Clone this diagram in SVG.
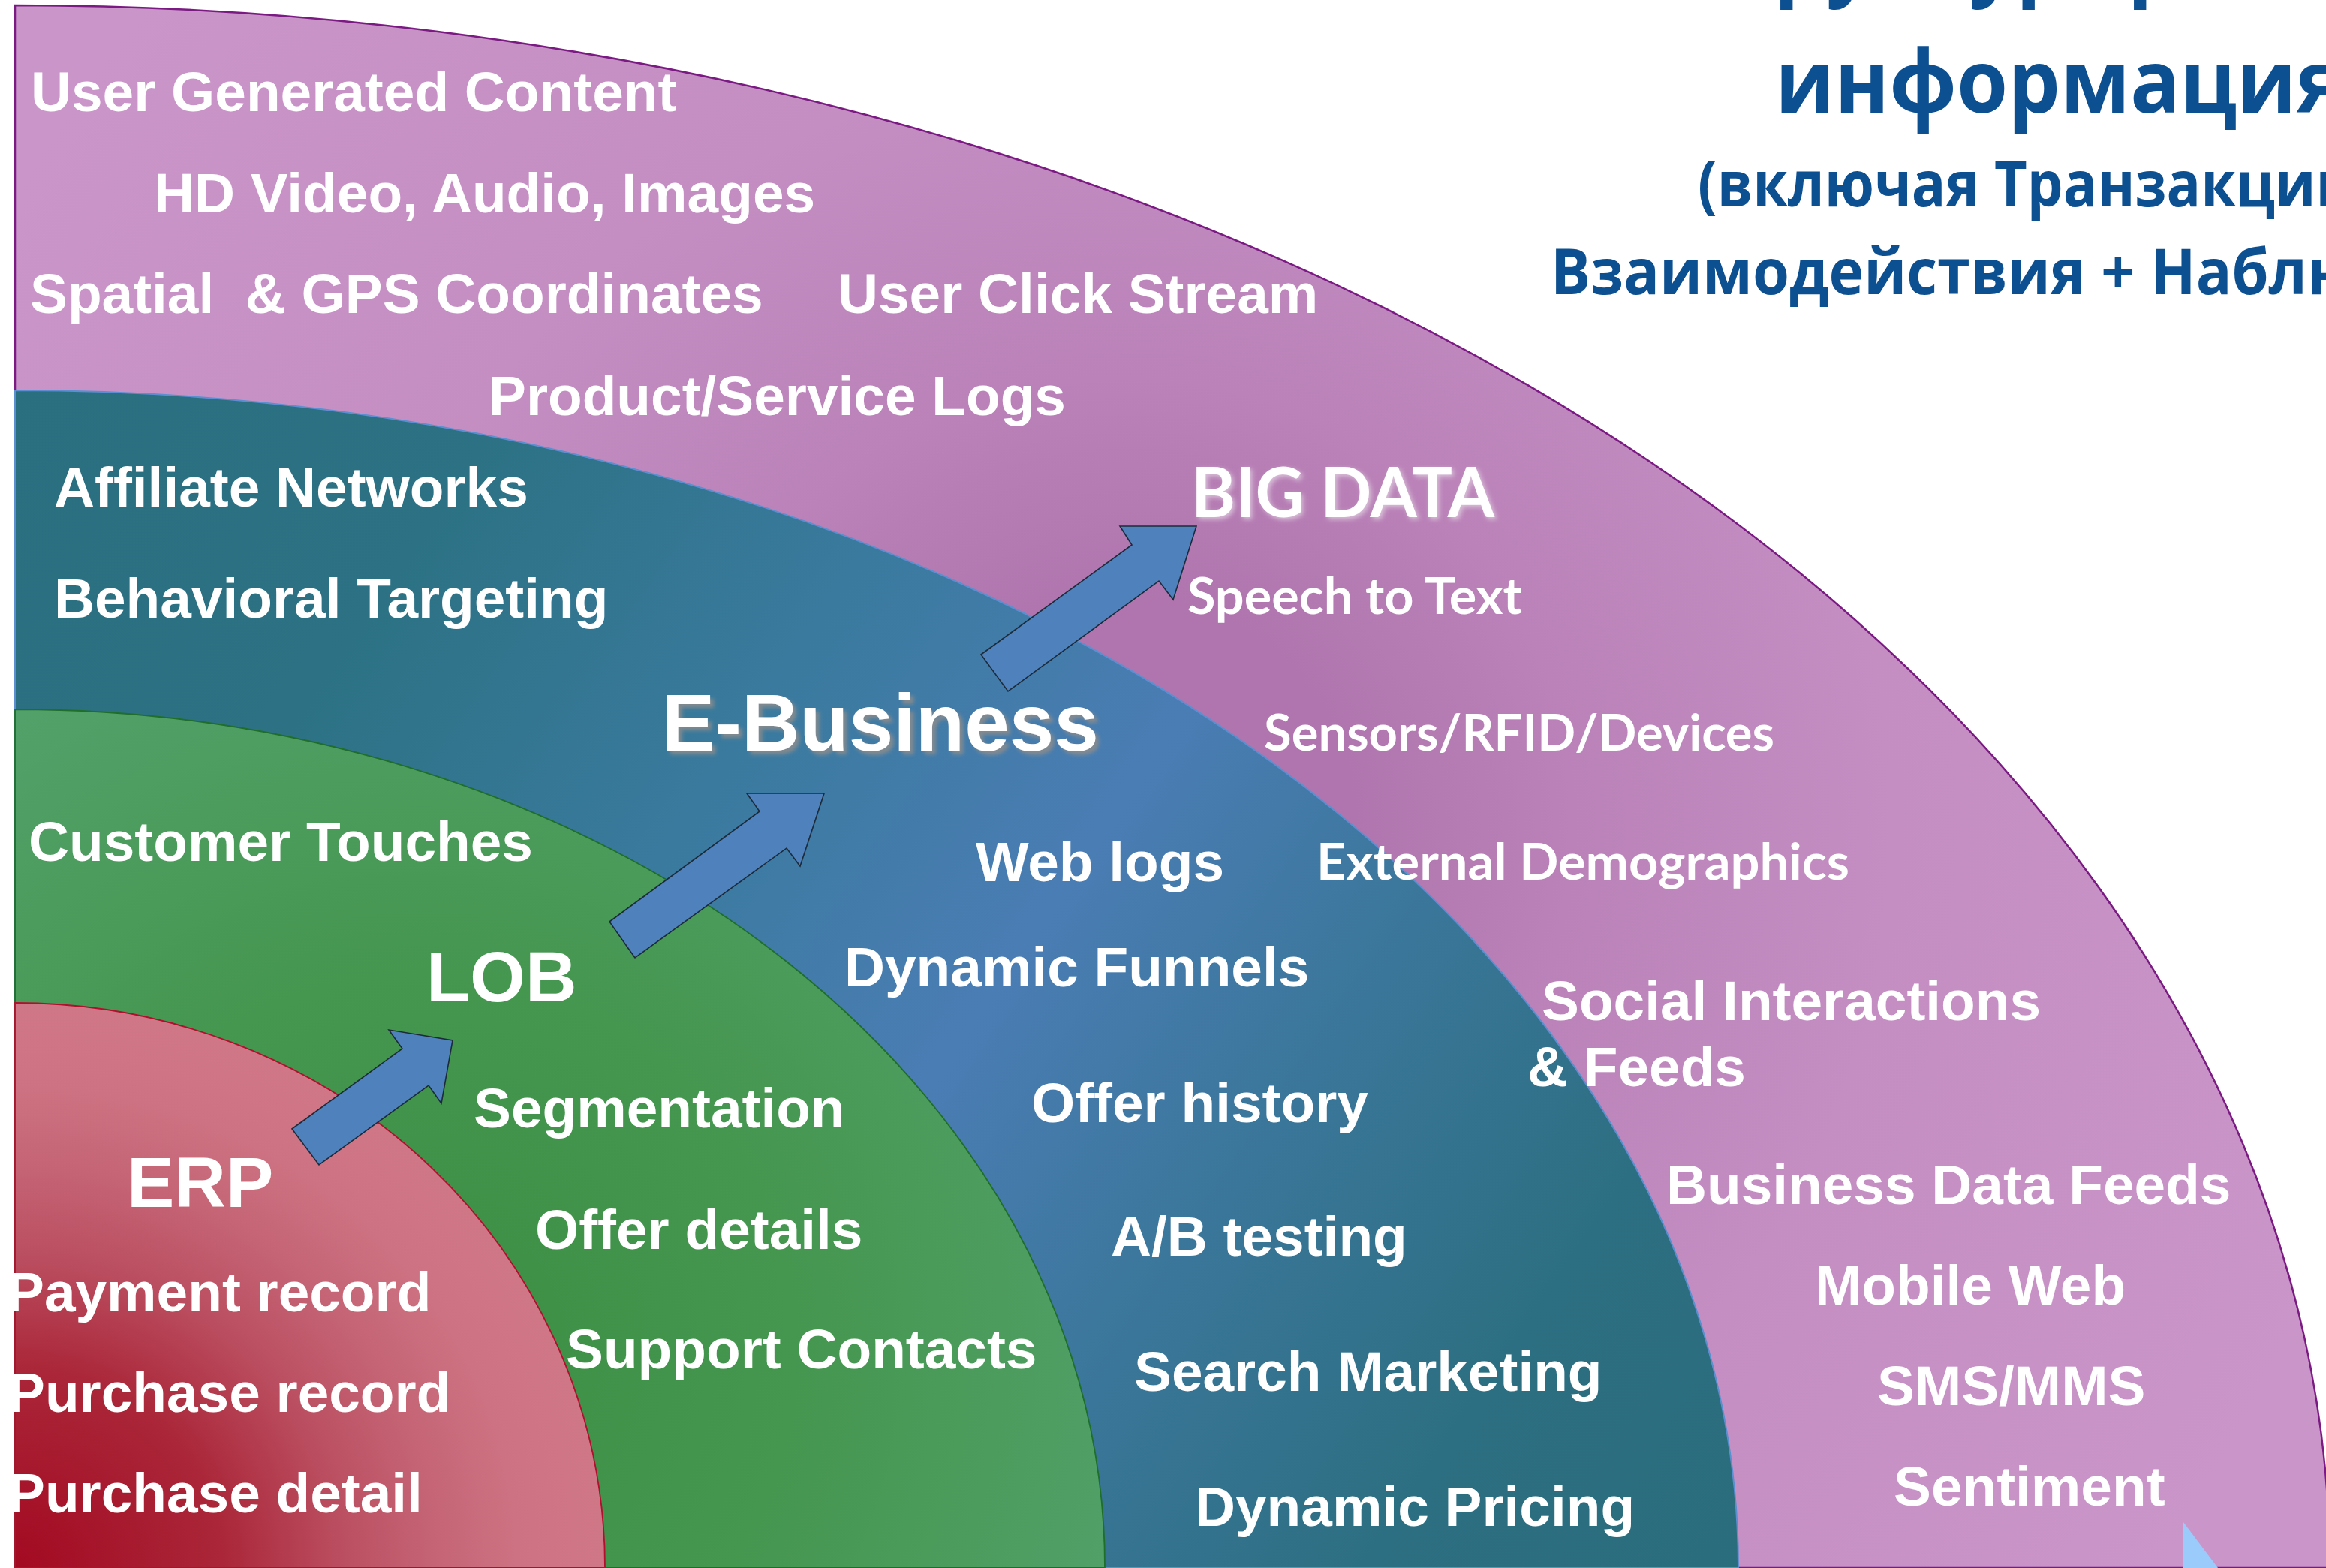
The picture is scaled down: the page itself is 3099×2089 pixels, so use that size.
<svg xmlns="http://www.w3.org/2000/svg" width="3099" height="2089" viewBox="0 0 3099 2089">
<defs>
<style>
.lbl{font-family:"Liberation Sans",Arial,sans-serif;font-weight:bold;font-size:74.8px;fill:#fff}
.big{font-family:"Liberation Sans",Arial,sans-serif;font-weight:bold;fill:#fff}
.cal{font-family:Lato,"Open Sans",sans-serif;font-weight:bold;fill:#fff}
.ru{font-family:"Open Sans","Noto Sans",sans-serif;font-weight:bold;fill:#0D5091}
.arrow{fill:#4F81BD;stroke:#1C2B3A;stroke-width:1.6;stroke-linejoin:miter}
</style>
<radialGradient id="gPurple" gradientUnits="userSpaceOnUse" cx="1500" cy="1100" r="1700">
<stop offset="0.18" stop-color="#B075AE"/>
<stop offset="0.35" stop-color="#BA82B8"/>
<stop offset="0.6" stop-color="#C48EC3"/>
<stop offset="1" stop-color="#CA95C9"/>
</radialGradient>
<linearGradient id="gTeal" gradientUnits="userSpaceOnUse" x1="20" y1="520" x2="2316" y2="2089">
<stop offset="0" stop-color="#2A6F80"/>
<stop offset="0.2" stop-color="#2C7284"/>
<stop offset="0.38" stop-color="#3A7A9E"/>
<stop offset="0.55" stop-color="#4A7DB4"/>
<stop offset="0.7" stop-color="#3A7699"/>
<stop offset="0.85" stop-color="#2D6F82"/>
<stop offset="1" stop-color="#2A6D7C"/>
</linearGradient>
<radialGradient id="gGreen" gradientUnits="userSpaceOnUse" cx="560" cy="1800" r="1000">
<stop offset="0" stop-color="#3C8E44"/>
<stop offset="0.5" stop-color="#45964F"/>
<stop offset="1" stop-color="#52A16A"/>
</radialGradient>
<radialGradient id="gRed" gradientUnits="userSpaceOnUse" cx="20" cy="2089" r="753" gradientTransform="translate(20 2089) scale(1.044 1) translate(-20 -2089)">
<stop offset="0" stop-color="#A30A22"/>
<stop offset="0.35" stop-color="#AA2638"/>
<stop offset="0.55" stop-color="#BA4E60"/>
<stop offset="0.7" stop-color="#C46374"/>
<stop offset="0.85" stop-color="#CD7282"/>
<stop offset="1" stop-color="#D07787"/>
</radialGradient>
<filter id="sh" x="-5%" y="-20%" width="115%" height="150%">
<feGaussianBlur in="SourceAlpha" stdDeviation="2.5" result="b"/>
<feOffset in="b" dx="5" dy="5" result="o"/>
<feFlood flood-color="#8C8C8C" flood-opacity="0.85"/>
<feComposite in2="o" operator="in" result="s"/>
<feMerge><feMergeNode in="s"/><feMergeNode in="SourceGraphic"/></feMerge>
</filter>
<filter id="glow" x="-5%" y="-20%" width="115%" height="150%">
<feGaussianBlur in="SourceAlpha" stdDeviation="3" result="b"/>
<feOffset in="b" dx="3" dy="3" result="o"/>
<feFlood flood-color="#E0D0E0" flood-opacity="0.8"/>
<feComposite in2="o" operator="in" result="s"/>
<feMerge><feMergeNode in="s"/><feMergeNode in="SourceGraphic"/></feMerge>
</filter>
</defs>
<rect x="0" y="0" width="3099" height="2089" fill="#FFFFFF"/>

<g id="bigdata-ring">
<path d="M20,2089 L20,7 A3084,2082 0 0 1 3104,2089 Z" fill="url(#gPurple)" stroke="#7A1A82" stroke-width="2.5"/>
</g>
<g id="ebusiness-ring">
<path d="M20,2089 L20,520 A2296,1569 0 0 1 2316,2089 Z" fill="url(#gTeal)" stroke="#5B8FD0" stroke-width="2"/>
</g>
<g id="lob-ring">
<path d="M20,2089 L20,945 A1452,1144 0 0 1 1472,2089 Z" fill="url(#gGreen)" stroke="#1F6E2A" stroke-width="1.8"/>
</g>
<g id="erp-ring">
<path d="M20,2089 L20,1336 A786,753 0 0 1 806,2089 Z" fill="url(#gRed)" stroke="#B0102E" stroke-width="1.8"/>
</g>
<g id="corner-shape">
<polygon points="2909,2028 2955,2089 2909,2089" fill="#9BCBFB"/>
</g>

<g id="connectors">
<polygon class="arrow" points="389,1504 536,1397 518,1372 603,1386 588,1470 571,1446 425,1552"/>
<polygon class="arrow" points="812,1228 1012,1081 995,1057 1098,1057 1066,1154 1048,1130 846,1276"/>
<polygon class="arrow" points="1307,872 1508,726 1492,701 1594,701 1563,799 1544,774 1343,921"/>
</g>

<g id="title">
<text class="ru" x="2098" y="-15" font-size="116" textLength="1285" lengthAdjust="spacingAndGlyphs">Неструктурированная</text>
<text class="ru" x="2365" y="150" font-size="116" textLength="760" lengthAdjust="spacingAndGlyphs">информация</text>
<text class="ru" x="2262" y="275" font-size="84" textLength="941" lengthAdjust="spacingAndGlyphs">(включая Транзакции +</text>
<text class="ru" x="2066" y="392" font-size="84" textLength="1360" lengthAdjust="spacingAndGlyphs">Взаимодействия + Наблюдения)</text>
</g>

<g id="bigdata-labels">
<text class="cal" x="1587" y="689" font-size="92" textLength="404" lengthAdjust="spacingAndGlyphs" filter="url(#glow)">BIG DATA</text>
<text class="lbl" x="41" y="148">User Generated Content</text>
<text class="lbl" x="205" y="283">HD Video, Audio, Images</text>
<text class="lbl" x="40" y="417" xml:space="preserve">Spatial  &amp; GPS Coordinates</text>
<text class="lbl" x="1116" y="417">User Click Stream</text>
<text class="lbl" x="651" y="553">Product/Service Logs</text>
<text class="cal" x="1582" y="818" font-size="66" textLength="446" lengthAdjust="spacingAndGlyphs">Speech to Text</text>
<text class="cal" x="1684" y="1000" font-size="66" textLength="680" lengthAdjust="spacingAndGlyphs">Sensors/RFID/Devices</text>
<text class="cal" x="1754" y="1172" font-size="66" textLength="710" lengthAdjust="spacingAndGlyphs">External Demographics</text>
<text class="lbl" x="2054" y="1359">Social Interactions</text>
<text class="lbl" x="2035" y="1447">&amp; Feeds</text>
<text class="lbl" x="2220" y="1604">Business Data Feeds</text>
<text class="lbl" x="2418" y="1738">Mobile Web</text>
<text class="lbl" x="2501" y="1872">SMS/MMS</text>
<text class="lbl" x="2523" y="2006">Sentiment</text>
</g>

<g id="ebusiness-labels">
<text class="big" x="881" y="1000" style="font-size:107px" filter="url(#sh)">E-Business</text>
<text class="lbl" x="72" y="675">Affiliate Networks</text>
<text class="lbl" x="72" y="823">Behavioral Targeting</text>
<text class="lbl" x="1300" y="1174">Web logs</text>
<text class="lbl" x="1125" y="1314">Dynamic Funnels</text>
<text class="lbl" x="1374" y="1495">Offer history</text>
<text class="lbl" x="1480" y="1673">A/B testing</text>
<text class="lbl" x="1511" y="1853">Search Marketing</text>
<text class="lbl" x="1592" y="2033">Dynamic Pricing</text>
</g>

<g id="lob-labels">
<text class="lbl" x="38" y="1147">Customer Touches</text>
<text class="big" x="568" y="1334" style="font-size:95px">LOB</text>
<text class="lbl" x="631" y="1502">Segmentation</text>
<text class="lbl" x="713" y="1664">Offer details</text>
<text class="lbl" x="754" y="1823">Support Contacts</text>
</g>

<g id="erp-labels">
<text class="big" x="169" y="1608" style="font-size:95px">ERP</text>
<text class="lbl" x="9" y="1747">Payment record</text>
<text class="lbl" x="10" y="1881">Purchase record</text>
<text class="lbl" x="10" y="2015">Purchase detail</text>
</g>
</svg>
